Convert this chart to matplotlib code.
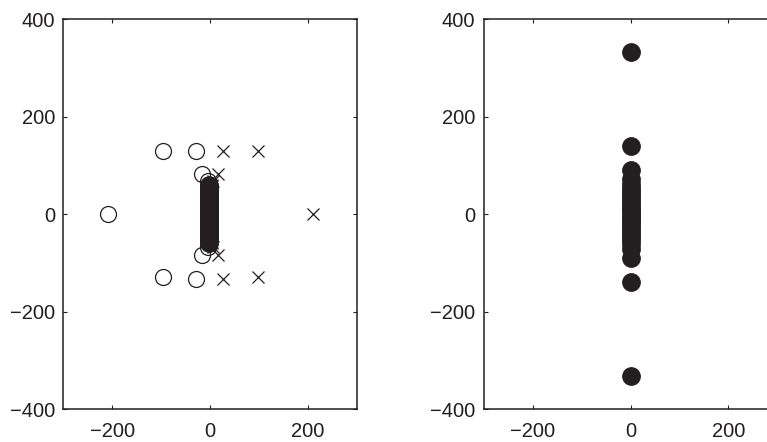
import numpy as np
import matplotlib
matplotlib.use('Agg')
import matplotlib.pyplot as plt

plt.rcParams['font.family'] = ['Liberation Sans', 'DejaVu Sans']
plt.rcParams['font.size'] = 14.5

# left panel: isolated zeros (o) and poles (x)
zeros_x = [-96, -28, -209, -16, -96, -28, -16, -5, -5]
zeros_y = [129, 130, 0, 83, -129, -133, -83, 67, -67]
poles_x = [27, 97, 210, 16, 27, 97, 16, 5, 5]
poles_y = [129, 129, 0, 83, -132, -128, -83, 67, -67]

# left panel: dense cluster near the imaginary axis
band_y = [60, 57, 54, 51, 48, 45, 42, 39, 36, 33, 30, 27, 24, 21, 18, 15, 12, 9, 6, 3, 0,
          -3, -6, -9, -12, -15, -18, -21, -24, -27, -30, -33, -36, -39, -42, -45, -48,
          -51, -54, -57, -60]
band_zero_x = [-3, -3, -2, -2, -2, -2, -2, -2, -2, -2, -2, -2, -2, -2, -2, -2, -2, -2, -2, -2, -2,
               -2, -2, -2, -2, -2, -2, -2, -2, -2, -2, -2, -2, -2, -2, -2, -2,
               -2, -2, -3, -3]
band_pole_x = [3, 3, 2, 2, 2, 2, 2, 2, 2, 2, 2, 2, 2, 2, 2, 2, 2, 2, 2, 2, 2,
               2, 2, 2, 2, 2, 2, 2, 2, 2, 2, 2, 2, 2, 2, 2, 2,
               2, 2, 3, 3]

# right panel: filled points on the imaginary axis
dots_x = [0] * 29
dots_y = [332, 140, 90, 72, 62, 54, 47, 41, 35, 29, 23, 17, 11, 6, 0,
          -6, -11, -17, -23, -29, -35, -41, -47, -54, -62, -72, -90, -140, -332]

ink = '#231f20'

fig = plt.figure(figsize=(7.67, 4.42), dpi=100)
ax1 = fig.add_axes([0.0825, 0.074, 0.383, 0.883])
ax2 = fig.add_axes([0.6306, 0.074, 0.383, 0.883])

ax1.plot(zeros_x, zeros_y, 'o', ms=11.5, mfc='none', mec=ink, mew=0.9, ls='none')
ax1.plot(poles_x, poles_y, 'x', ms=8.5, color=ink, mew=0.9, ls='none')
ax1.plot(band_pole_x, band_y, 'x', ms=8.5, color=ink, mew=0.9, ls='none')
ax1.plot(band_zero_x, band_y, 'o', ms=11.5, mfc='none', mec=ink, mew=2.0, ls='none')

ax2.plot(dots_x, dots_y, 'o', ms=12.5, color=ink, ls='none')

for ax in (ax1, ax2):
    ax.set_xlim(-300, 300)
    ax.set_ylim(-400, 400)
    ax.set_xticks([-200, 0, 200])
    ax.set_yticks([-400, -200, 0, 200, 400])
    ax.tick_params(direction='in', length=3, width=0.8, top=True, right=True,
                   colors=ink, labelcolor=ink)
    ax.tick_params(axis='x', pad=9)
    ax.tick_params(axis='y', pad=6)
    for sp in ax.spines.values():
        sp.set_linewidth(1.1)
        sp.set_color(ink)

fig.savefig('out.png', dpi=100)
